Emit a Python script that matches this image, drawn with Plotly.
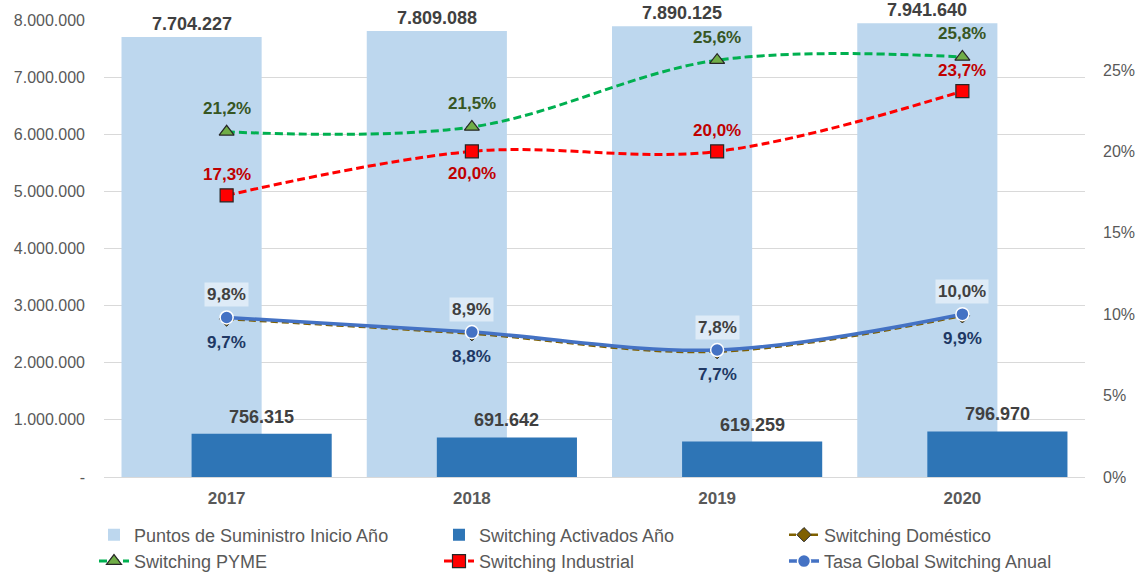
import plotly.graph_objects as go

# ---------------- data ----------------
years = ["2017", "2018", "2019", "2020"]
puntos_suministro = [7704227, 7809088, 7890125, 7941640]
switching_activados = [756315, 691642, 619259, 796970]
sw_domestico = [0.097, 0.088, 0.077, 0.099]
sw_pyme = [0.212, 0.215, 0.256, 0.258]
sw_industrial = [0.173, 0.200, 0.200, 0.237]
tasa_global = [0.098, 0.089, 0.078, 0.100]

left_tickvals = [0, 1000000, 2000000, 3000000, 4000000, 5000000, 6000000, 7000000, 8000000]
right_tickvals = [0, 0.05, 0.10, 0.15, 0.20, 0.25]
industrial_label_side = ["top", "bottom", "top", "top"]

# ---------------- helpers ----------------
FONT = "Liberation Sans, Arial, sans-serif"


def fmt_int(v):
    return f"{v:,}".replace(",", ".")


def fmt_pct(v):
    return f"{v * 100:.1f}%".replace(".", ",")


left_ticktext = ["-" if v == 0 else fmt_int(v) for v in left_tickvals]

fig = go.Figure()

fig.add_trace(go.Bar(
    x=years, y=puntos_suministro, name="Puntos de Suministro Inicio Año",
    marker=dict(color="#BDD7EE", line=dict(width=0)),
    offset=-0.4286, width=0.5714, yaxis="y",
))
fig.add_trace(go.Bar(
    x=years, y=switching_activados, name="Switching Activados Año",
    marker=dict(color="#2E75B6", line=dict(width=0)),
    offset=-0.1429, width=0.5714, yaxis="y",
))
fig.add_trace(go.Scatter(
    x=years, y=sw_domestico, name="Switching Doméstico", yaxis="y2",
    mode="lines+markers",
    line=dict(color="#7F6000", width=2.5, dash="7px,4px", shape="spline", smoothing=1),
    marker=dict(symbol="diamond", size=11, color="#7F6000", line=dict(color="#262626", width=1)),
))
fig.add_trace(go.Scatter(
    x=years, y=sw_pyme, name="Switching PYME", yaxis="y2",
    mode="lines+markers",
    line=dict(color="#00B050", width=3, dash="8px,4px", shape="spline", smoothing=1),
    marker=dict(symbol="triangle-up", size=13, color="#70AD47", line=dict(color="#262626", width=1.2)),
))
fig.add_trace(go.Scatter(
    x=years, y=sw_industrial, name="Switching Industrial", yaxis="y2",
    mode="lines+markers",
    line=dict(color="#FF0000", width=3, dash="8px,4px", shape="spline", smoothing=1),
    marker=dict(symbol="square", size=13, color="#FF0000", line=dict(color="#262626", width=1.2)),
))
fig.add_trace(go.Scatter(
    x=years, y=tasa_global, name="Tasa Global Switching Anual", yaxis="y2",
    mode="lines+markers",
    line=dict(color="#4472C4", width=3.5, shape="spline", smoothing=1),
    marker=dict(symbol="circle", size=13, color="#4472C4", line=dict(color="#FFFFFF", width=1.5)),
))

annotations = []
for i, v in enumerate(puntos_suministro):
    annotations.append(dict(
        x=i, y=v, xref="x", yref="y", text=f"<b>{fmt_int(v)}</b>", showarrow=False,
        xshift=-35, yshift=13, yanchor="middle", bgcolor="#FFFFFF", borderpad=1,
        font=dict(family=FONT, size=18, color="#404040"),
    ))
for i, v in enumerate(switching_activados):
    annotations.append(dict(
        x=i, y=v, xref="x", yref="y", text=f"<b>{fmt_int(v)}</b>", showarrow=False,
        xshift=35, yshift=17, yanchor="middle",
        font=dict(family=FONT, size=18, color="#404040"),
    ))
for i, v in enumerate(sw_pyme):
    annotations.append(dict(
        x=i, y=v, xref="x", yref="y2", text=f"<b>{fmt_pct(v)}</b>", showarrow=False,
        yshift=23, yanchor="middle",
        font=dict(family=FONT, size=17, color="#375623"),
    ))
for i, (v, side) in enumerate(zip(sw_industrial, industrial_label_side)):
    annotations.append(dict(
        x=i, y=v, xref="x", yref="y2", text=f"<b>{fmt_pct(v)}</b>", showarrow=False,
        yshift=21 if side == "top" else -22, yanchor="middle",
        font=dict(family=FONT, size=17, color="#C00000"),
    ))
for i, v in enumerate(tasa_global):
    annotations.append(dict(
        x=i, y=v, xref="x", yref="y2", text=f"<b>{fmt_pct(v)}</b>", showarrow=False,
        yshift=23, yanchor="middle", bgcolor="rgba(255,255,255,0.5)", borderpad=2,
        font=dict(family=FONT, size=17, color="#404040"),
    ))
for i, v in enumerate(sw_domestico):
    annotations.append(dict(
        x=i, y=v, xref="x", yref="y2", text=f"<b>{fmt_pct(v)}</b>", showarrow=False,
        yshift=-23, yanchor="middle",
        font=dict(family=FONT, size=17, color="#203864"),
    ))

fig.update_layout(
    width=1139, height=573,
    margin=dict(l=104, r=54, t=20, b=96, autoexpand=False),
    paper_bgcolor="#FFFFFF", plot_bgcolor="#FFFFFF",
    barmode="overlay",
    font=dict(family=FONT, color="#595959"),
    showlegend=True,
    legend=dict(
        orientation="h", x=-0.0102, xanchor="left", y=-0.0864, yanchor="top",
        font=dict(family=FONT, size=18, color="#595959"),
        entrywidth=300, entrywidthmode="pixels",
        traceorder="normal", itemclick=False, bgcolor="rgba(0,0,0,0)",
    ),
    xaxis=dict(
        type="category", showgrid=False, showline=False, zeroline=False,
        ticks="outside", ticklen=6, tickcolor="rgba(0,0,0,0)",
        tickfont=dict(family=FONT, size=17, color="#595959", weight="bold"),
        range=[-0.5, 3.5], automargin=False,
    ),
    yaxis=dict(
        range=[0, 8000000], tickvals=left_tickvals, ticktext=left_ticktext,
        showgrid=True, gridcolor="#D9D9D9", gridwidth=1,
        zeroline=True, zerolinecolor="#D9D9D9", zerolinewidth=1,
        showline=False, ticks="", ticklabelstandoff=18, automargin=False,
        tickfont=dict(family=FONT, size=16, color="#595959"),
    ),
    yaxis2=dict(
        overlaying="y", side="right", range=[0, 0.2807],
        tickvals=right_tickvals, tickformat=".0%",
        showgrid=False, zeroline=False, showline=False, ticks="",
        ticklabelstandoff=17, automargin=False,
        tickfont=dict(family=FONT, size=16, color="#595959"),
    ),
    annotations=annotations,
    separators=",.",
)

fig.write_html("out.html", config={"displayModeBar": False},
               post_script="document.body.style.margin='0';")
